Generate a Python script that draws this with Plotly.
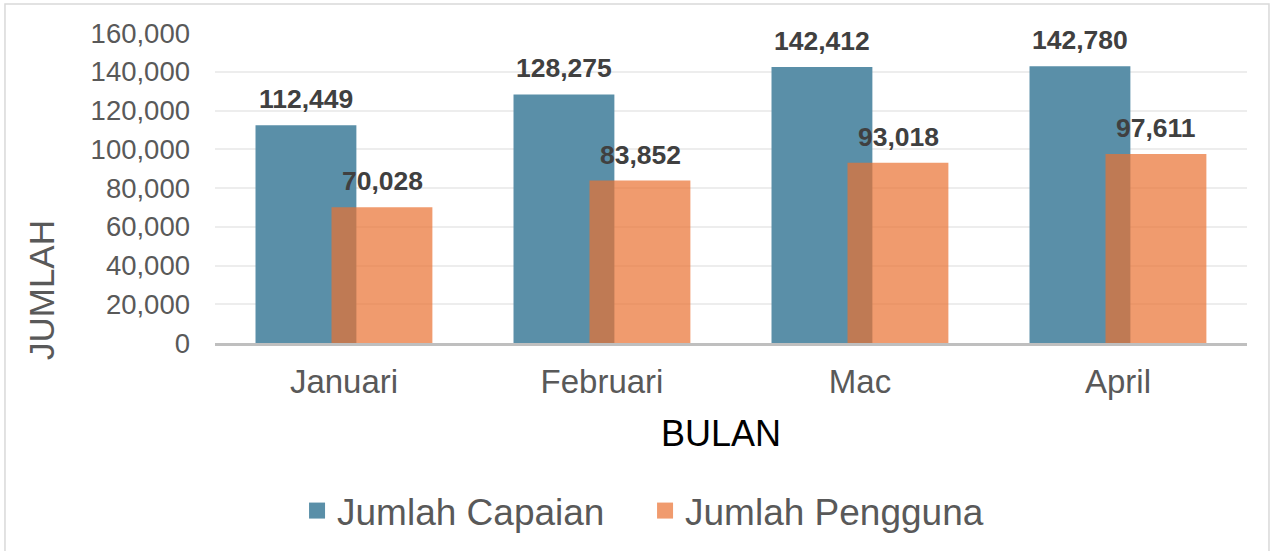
import plotly.graph_objects as go

months = ["Januari", "Februari", "Mac", "April"]
capaian = [112449, 128275, 142412, 142780]
pengguna = [70028, 83852, 93018, 97611]
series_names = ["Jumlah Capaian", "Jumlah Pengguna"]
y_ticks = [0, 20000, 40000, 60000, 80000, 100000, 120000, 140000, 160000]

BLUE = "#5A8FA8"
ORANGE = "rgba(234,112,48,0.7)"
FONT = "Liberation Sans, Arial, sans-serif"
GREY = "#595959"

fig = go.Figure()
fig.add_trace(go.Bar(x=months, y=capaian, name=series_names[0], marker_color=BLUE,
                     marker_line_width=0, width=0.391, offset=-0.343, showlegend=False))
fig.add_trace(go.Bar(x=months, y=pengguna, name=series_names[1], marker_color=ORANGE,
                     marker_line_width=0, width=0.391, offset=-0.0484, showlegend=False))
# legend entries
fig.add_trace(go.Scatter(x=[None], y=[None], mode="markers", name=series_names[0],
                         marker=dict(symbol="square", size=19, color=BLUE)))
fig.add_trace(go.Scatter(x=[None], y=[None], mode="markers", name=series_names[1],
                         marker=dict(symbol="square", size=19, color=ORANGE)))

# data labels
for vals, shift in ((capaian, -38), (pengguna, 38)):
    for m, v in zip(months, vals):
        fig.add_annotation(x=m, y=v, text=f"{v:,}", showarrow=False, xshift=shift,
                           yanchor="bottom", yshift=9,
                           font=dict(family=FONT, size=26.5, color="#404040", weight="bold"))

fig.add_annotation(text="JUMLAH", xref="paper", yref="paper", x=-0.1676, y=0.171,
                   showarrow=False, textangle=-90, xanchor="center", yanchor="middle",
                   font=dict(family=FONT, size=35, color=GREY))
fig.add_annotation(text="BULAN", xref="paper", yref="paper", x=0.4903, y=-0.292,
                   showarrow=False, xanchor="center", yanchor="middle",
                   font=dict(family=FONT, size=36, color="#000000"))

fig.add_shape(type="rect", xref="paper", yref="paper", x0=-0.2035, x1=1.0213,
              y0=-0.70, y1=1.0935, line=dict(color="#D9D9D9", width=1.5), layer="below")

fig.update_layout(
    width=1277, height=551,
    margin=dict(l=215, r=30, t=33, b=208, autoexpand=False),
    paper_bgcolor="white", plot_bgcolor="white",
    barmode="overlay",
    font=dict(family=FONT, color=GREY),
    legend=dict(orientation="h", x=0.0795, xanchor="left", y=-0.542, yanchor="middle",
                font=dict(family=FONT, size=37, color=GREY), itemsizing="trace",
                entrywidth=303, entrywidthmode="pixels"),
    xaxis=dict(range=[-0.5, 3.5], showgrid=False, showline=True, linecolor="#BFBFBF",
               linewidth=2.5, tickfont=dict(family=FONT, size=33, color=GREY),
               ticks="", ticklabelstandoff=8, automargin=False),
    yaxis=dict(range=[0, 160000], tickvals=y_ticks, tickformat=",", showgrid=True,
               gridcolor="#EDEDED", gridwidth=1.5, zeroline=False, showline=False,
               tickfont=dict(family=FONT, size=27.5, color=GREY), ticks="",
               ticklabelstandoff=24, automargin=False),
)

fig.write_html("out.html", config={"displayModeBar": False},
               post_script="document.body.style.margin='0';")
